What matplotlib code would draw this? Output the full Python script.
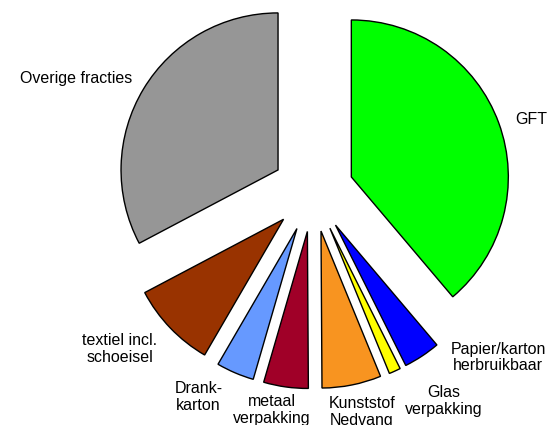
import matplotlib
matplotlib.use("Agg")
import matplotlib.pyplot as plt

# waste fractions, clockwise from the top
labels = ['GFT', 'Papier/karton\nherbruikbaar', 'Glas\nverpakking', 'Kunststof\nNedvang',
          'metaal\nverpakking', 'Drank-\nkarton', 'textiel incl.\nschoeisel', 'Overige fracties']
values = [38.9, 3.8, 1.2, 6.1, 4.6, 3.9, 8.9, 32.8]
colors = ['#00FF00', '#0000FF', '#FFFF00', '#F89420', '#A00028', '#6699FF', '#993300', '#969696']

# label centres in pie units (radius = 1)
label_pos = [(1.389, 0.455), (1.178, -1.06), (0.83, -1.337), (0.312, -1.41),
             (-0.262, -1.395), (-0.729, -1.312), (-1.229, -1.006), (-1.51, 0.715)]

plt.rcParams['font.family'] = ['Liberation Sans', 'DejaVu Sans']

fig = plt.figure(figsize=(5.49, 4.25), dpi=100)
ax = fig.add_axes([0, 0, 1, 1])

wedges, _ = ax.pie(values, colors=colors, startangle=90, counterclock=False,
                   explode=[0.26] * len(values),
                   wedgeprops=dict(edgecolor='black', linewidth=1.0))

for (x, y), lab in zip(label_pos, labels):
    ax.text(x, y, lab, ha='center', va='center', fontsize=11.5, linespacing=1.15)

# centre of the pie at pixel (313, 191), radius 157 px
ax.set_xlim(-313 / 157, (549 - 313) / 157)
ax.set_ylim((191 - 425) / 157, 191 / 157)
ax.set_aspect('auto')
ax.axis('off')

fig.savefig('out.png', dpi=100)
